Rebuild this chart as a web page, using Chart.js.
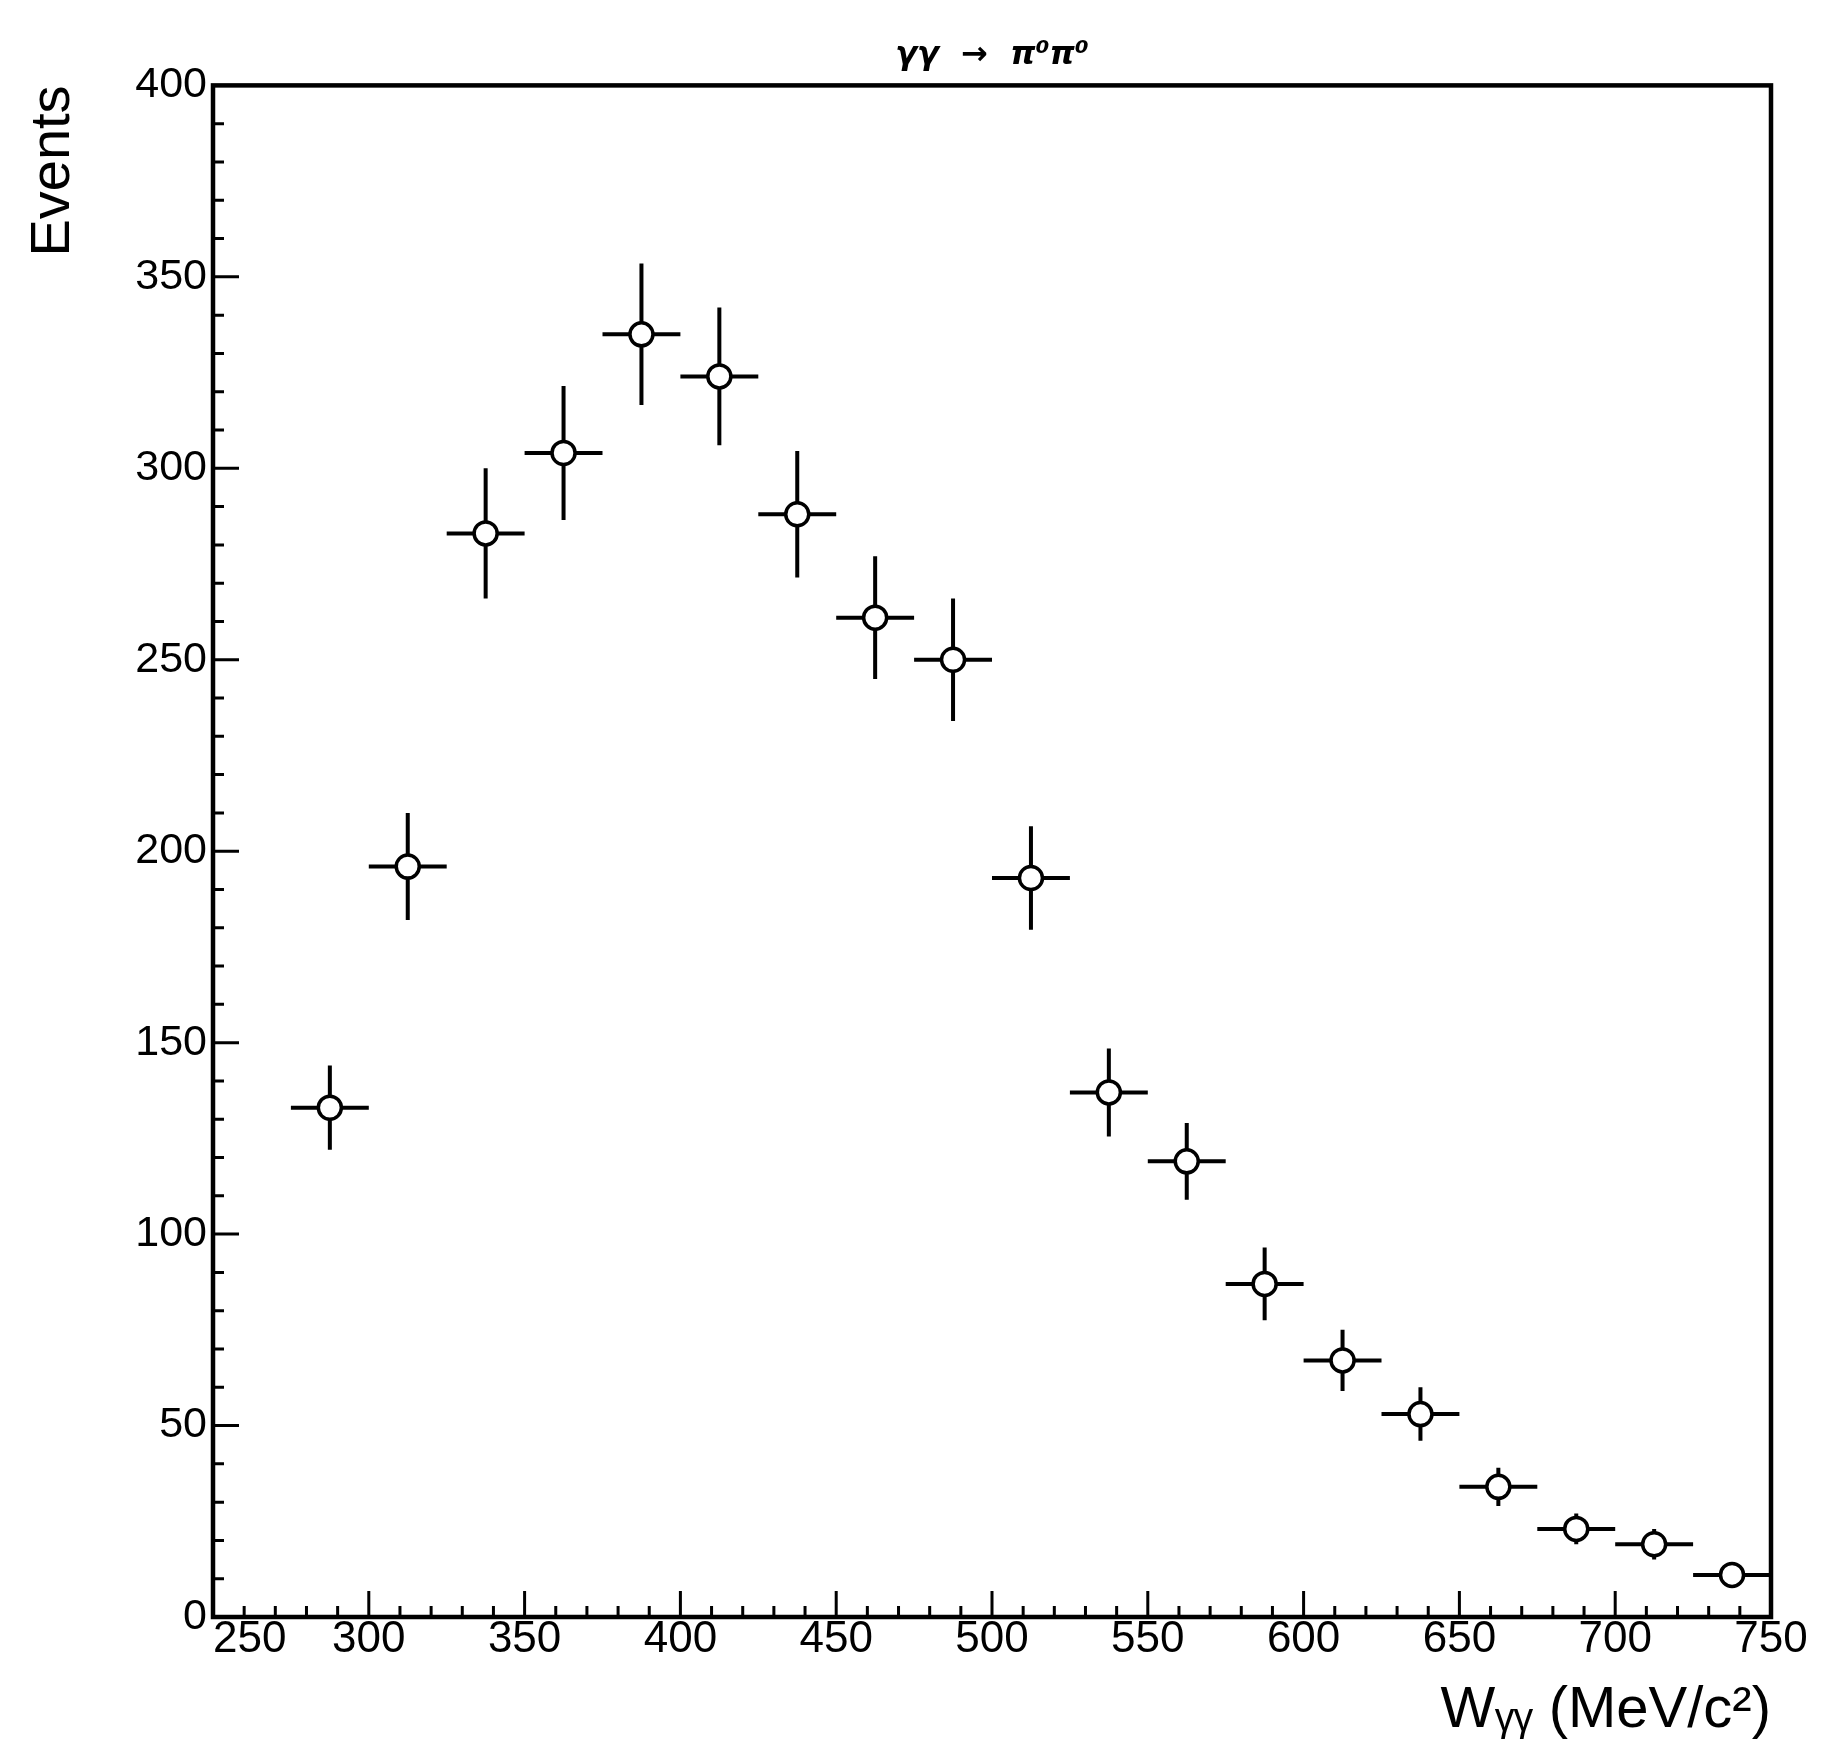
<!DOCTYPE html>
<html>
<head>
<meta charset="utf-8">
<script src="https://cdn.jsdelivr.net/npm/chart.js@4.4.1/dist/chart.umd.min.js"></script>
<style>
  html, body { margin: 0; padding: 0; background: #fff; }
  #wrap { width: 1826px; height: 1754px; }
</style>
</head>
<body>
<div id="wrap"><canvas id="myChart" width="1826" height="1754"></canvas></div>
<script>
// Bin centres of W_gg (MeV/c^2), 25 MeV wide bins
const wCenters = [287.5, 312.5, 337.5, 362.5, 387.5, 412.5, 437.5, 462.5, 487.5, 512.5,
                  537.5, 562.5, 587.5, 612.5, 637.5, 662.5, 687.5, 712.5, 737.5];
const binHalf = [12.5, 12.5, 12.5, 12.5, 12.5, 12.5, 12.5, 12.5, 12.5, 12.5,
                 12.5, 12.5, 12.5, 12.5, 12.5, 12.5, 12.5, 12.5, 12.5];
// Events per bin and their statistical errors
const events = [133, 196, 283, 304, 335, 324, 288, 261, 250, 193,
                137, 119, 87, 67, 53, 34, 23, 19, 11];
const errors = [11, 14, 17, 17.5, 18.5, 18, 16.5, 16, 16, 13.5,
                11.5, 10, 9.5, 8, 7, 5, 4, 4, 3];
const xTicks = [250, 300, 350, 400, 450, 500, 550, 600, 650, 700, 750];
const yTicks = [0, 50, 100, 150, 200, 250, 300, 350, 400];

const FONT = 'Liberation Sans';

// error bars go under the open circles, frame and inner ticks on top
const histoDeco = {
    id: 'histoDeco',
    beforeDatasetsDraw(chart) {
        const {ctx, scales: {x, y}} = chart;
        ctx.save();
        ctx.strokeStyle = '#000';
        ctx.lineWidth = 4;
        for (let i = 0; i < wCenters.length; i++) {
            const px = x.getPixelForValue(wCenters[i]);
            const py = y.getPixelForValue(events[i]);
            ctx.beginPath();
            ctx.moveTo(x.getPixelForValue(wCenters[i] - binHalf[i]), py);
            ctx.lineTo(x.getPixelForValue(wCenters[i] + binHalf[i]), py);
            ctx.moveTo(px, y.getPixelForValue(events[i] + errors[i]));
            ctx.lineTo(px, y.getPixelForValue(events[i] - errors[i]));
            ctx.stroke();
        }
        ctx.restore();
    },
    afterDraw(chart) {
        const {ctx, chartArea: a, scales: {x, y}} = chart;
        ctx.save();
        ctx.strokeStyle = '#000';
        ctx.lineWidth = 4.5;
        ctx.strokeRect(a.left, a.top, a.right - a.left, a.bottom - a.top);
        ctx.lineWidth = 3;
        ctx.beginPath();
        for (let v = 260; v < 750; v += 10) {
            const len = v % 50 === 0 ? 26 : 11;
            const px = x.getPixelForValue(v);
            ctx.moveTo(px, a.bottom);
            ctx.lineTo(px, a.bottom - len);
        }
        for (let v = 10; v < 400; v += 10) {
            const len = v % 50 === 0 ? 26 : 11;
            const py = y.getPixelForValue(v);
            ctx.moveTo(a.left, py);
            ctx.lineTo(a.left + len, py);
        }
        ctx.stroke();
        ctx.restore();
    }
};

const ctx = document.getElementById('myChart').getContext('2d');
const myChart = new Chart(ctx, {
    type: 'scatter',
    data: {
        datasets: [{
            label: 'Events',
            data: wCenters.map((w, i) => ({x: w, y: events[i]})),
            pointRadius: 11.5,
            pointBorderWidth: 3.5,
            pointBackgroundColor: '#fff',
            pointBorderColor: '#000',
            clip: false
        }]
    },
    options: {
        responsive: false,
        animation: false,
        layout: { padding: { left: 0, right: 55, top: 0, bottom: 0 } },
        plugins: {
            legend: { display: false },
            tooltip: { enabled: false },
            title: {
                display: true,
                fullSize: false,
                text: 'γγ  →  π⁰π⁰',
                color: '#000',
                font: { family: 'DejaVu Sans', size: 32, weight: 'bold', style: 'italic' },
                padding: { top: 36, bottom: 11 }
            }
        },
        scales: {
            x: {
                type: 'linear',
                min: 250,
                max: 750,
                afterBuildTicks: (s) => { s.ticks = xTicks.map(v => ({value: v})); },
                afterFit: (s) => { s.height = 137; },
                grid: { display: false, drawTicks: false },
                border: { display: false },
                ticks: {
                    color: '#000',
                    padding: -4,
                    maxRotation: 0,
                    autoSkip: false,
                    font: { family: FONT, size: 44 },
                    callback: (v) => v === 250 ? '      250' : String(v)
                },
                title: {
                    display: true,
                    align: 'end',
                    text: 'Wᵧᵧ (MeV/c²)',
                    color: '#000',
                    font: { family: FONT, size: 58 },
                    padding: { top: 0, bottom: 8 }
                }
            },
            y: {
                min: 0,
                max: 400,
                afterBuildTicks: (s) => { s.ticks = yTicks.map(v => ({value: v})); },
                afterFit: (s) => { s.width = 213; },
                grid: { display: false, drawTicks: false },
                border: { display: false },
                ticks: {
                    color: '#000',
                    padding: 6,
                    autoSkip: false,
                    font: { family: FONT, size: 43 }
                },
                title: {
                    display: true,
                    align: 'end',
                    text: 'Events',
                    color: '#000',
                    font: { family: FONT, size: 56 },
                    padding: { top: 20, bottom: 0 }
                }
            }
        }
    },
    plugins: [histoDeco]
});
</script>
</body>
</html>
